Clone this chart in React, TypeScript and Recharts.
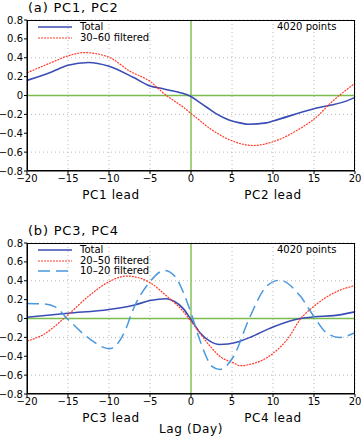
import React from "react";
import { LineChart, Line, XAxis, YAxis, CartesianGrid, ReferenceLine } from "recharts";

// lag (day) / value pairs
const aTotal = [
  [-20, 0.16], [-17, 0.25], [-15, 0.32], [-12.5, 0.35], [-10, 0.31], [-7, 0.19], [-5, 0.1],
  [-3.4, 0.072], [-2.5, 0.053], [-1.3, 0.03], [0, -0.01], [1, -0.07], [2, -0.13], [3, -0.19],
  [4, -0.235], [5, -0.27], [6, -0.29], [7, -0.305], [9.2, -0.29], [10, -0.27], [15, -0.14],
  [19, -0.057], [20, -0.02],
];
const aFilt = [
  [-20, 0.24], [-17, 0.35], [-15, 0.42], [-13, 0.455], [-10, 0.405], [-7.5, 0.26], [-5, 0.15],
  [-3, 0.0], [-2, -0.06], [-1, -0.12], [0, -0.19], [1, -0.26], [2.3, -0.35], [3, -0.39],
  [5, -0.48], [7.6, -0.53], [10, -0.49], [13.3, -0.35], [15, -0.25], [17.4, -0.05], [20, 0.13],
];
const bTotal = [
  [-20, 0.014], [-15, 0.056], [-10, 0.095], [-7, 0.14], [-5, 0.19], [-3, 0.21], [-2, 0.18],
  [-1, 0.11], [0, -0.01], [1.1, -0.15], [2.3, -0.24], [3.5, -0.275], [4.5, -0.27], [6, -0.24],
  [7.2, -0.2], [10, -0.09], [13.3, 0.0], [15, 0.018], [17.4, 0.03], [20, 0.07],
];
const bFilt2050 = [
  [-20, -0.24], [-18, -0.17], [-15.5, 0.0], [-12.3, 0.25], [-10, 0.39], [-7.8, 0.45], [-5, 0.38],
  [-3, 0.24], [-1, 0.08], [0, -0.03], [2.3, -0.29], [3.5, -0.4], [5.2, -0.47], [6, -0.5],
  [7, -0.49], [10, -0.37], [12, -0.19], [13.3, -0.01], [15, 0.13], [17.4, 0.27], [20, 0.35],
];
const bFilt1020 = [
  [-20, 0.16], [-18, 0.155], [-16.5, 0.12], [-15, -0.01], [-12.3, -0.22], [-10, -0.32],
  [-7.8, -0.08], [-7.4, 0.02], [-5, 0.39], [-3.2, 0.51], [-2, 0.45], [0, 0.06], [1, -0.21],
  [2.6, -0.51], [3.5, -0.54], [5.2, -0.4], [7.1, 0.0], [9.2, 0.34], [10.8, 0.405], [13.3, 0.24],
  [15, 0.02], [16.5, -0.15], [18.1, -0.2], [20, -0.15],
];

const xTicks = [-20, -15, -10, -5, 0, 5, 10, 15, 20];
const yTicks = [-0.8, -0.6, -0.4, -0.2, 0, 0.2, 0.4, 0.6, 0.8];

const FONT = "'DejaVu Sans', sans-serif";
const BLUE = "#3a4db5";
const RED = "#ff3a2a";
const LIGHT = "#4a98de";
const GREEN = "#7cbc4c";

const toPts = (arr: number[][]) => arr.map(([x, y]) => ({ x, y }));
const fmtX = (v: number) => (v < 0 ? "\u2212" + Math.abs(v) : String(v));
const fmtY = (v: number) => (v === 0 ? "0" : (v < 0 ? "\u2212" : "") + Math.abs(v).toFixed(1));

type Series = { name: string; data: number[][]; color: string; dash?: string; width: number };

function Panel({ top, series }: { top: number; series: Series[] }) {
  const tick = { fill: "#000", fontSize: 10, fontFamily: FONT };
  return (
    <div style={{ position: "absolute", left: 0, top }}>
      <LineChart width={361} height={200} margin={{ top: 20, right: 6, left: 0, bottom: 0 }}>
        <CartesianGrid
          stroke="#b8b8b8"
          strokeDasharray="1 3"
          verticalValues={xTicks.filter((t) => t !== 0)}
          horizontalValues={yTicks.filter((t) => t !== 0)}
        />
        <XAxis
          dataKey="x"
          type="number"
          domain={[-20, 20]}
          ticks={xTicks}
          tickFormatter={fmtX}
          height={29}
          tick={tick}
          tickSize={3}
          tickMargin={1}
          stroke="#000"
          allowDuplicatedCategory={false}
        />
        <YAxis
          type="number"
          domain={[-0.8, 0.8]}
          ticks={yTicks}
          tickFormatter={fmtY}
          width={27}
          tick={tick}
          tickSize={3}
          tickMargin={1}
          stroke="#000"
        />
        <ReferenceLine x={0} stroke={GREEN} strokeWidth={1.4} />
        <ReferenceLine y={0} stroke={GREEN} strokeWidth={1.6} />
        {series.map((s) => (
          <Line
            key={s.name}
            data={toPts(s.data)}
            dataKey="y"
            type="monotone"
            stroke={s.color}
            strokeWidth={s.width}
            strokeDasharray={s.dash}
            dot={false}
            isAnimationActive={false}
          />
        ))}
      </LineChart>
      <div
        style={{
          position: "absolute", left: 27, top: 20, width: 328, height: 151,
          border: "1.5px solid #000", boxSizing: "border-box", pointerEvents: "none",
        }}
      />
      <div style={{ position: "absolute", left: 38, top: 22 }}>
        {series.map((s) => (
          <div key={s.name} style={{ display: "flex", alignItems: "center", height: 10.5 }}>
            <svg width={36} height={6}>
              <line x1={0} y1={3} x2={34} y2={3} stroke={s.color} strokeWidth={s.width} strokeDasharray={s.dash} />
            </svg>
            <span style={{ fontFamily: FONT, fontSize: 10, marginLeft: 6, lineHeight: "10px" }}>{s.name}</span>
          </div>
        ))}
      </div>
      <div style={{ position: "absolute", left: 277, top: 21, fontFamily: FONT, fontSize: 10 }}>4020 points</div>
    </div>
  );
}

const label = (text: string, cx: number, cy: number, size = 12): React.ReactElement => (
  <div
    style={{
      position: "absolute", left: cx - 60, width: 120, top: cy - size / 2 - 1, textAlign: "center",
      fontFamily: FONT, fontSize: size, lineHeight: `${size + 2}px`, letterSpacing: 0.6,
    }}
  >
    {text}
  </div>
);

export default function App() {
  return (
    <div style={{ position: "absolute", left: 0, top: 0, width: 361, height: 436, background: "#fff" }}>
      <div style={{ position: "absolute", left: 28, top: 0, fontFamily: FONT, fontSize: 13, letterSpacing: 0.8 }}>
        (a) PC1, PC2
      </div>
      <Panel
        top={0}
        series={[
          { name: "Total", data: aTotal, color: BLUE, width: 1.6 },
          { name: "30\u201360 filtered", data: aFilt, color: RED, width: 1.2, dash: "2 1" },
        ]}
      />
      {label("PC1 lead", 111, 195)}
      {label("PC2 lead", 273, 195)}
      <div style={{ position: "absolute", left: 28, top: 223, fontFamily: FONT, fontSize: 13, letterSpacing: 0.8 }}>
        (b) PC3, PC4
      </div>
      <Panel
        top={223}
        series={[
          { name: "Total", data: bTotal, color: BLUE, width: 1.6 },
          { name: "20\u201350 filtered", data: bFilt2050, color: RED, width: 1.2, dash: "2 1" },
          { name: "10\u201320 filtered", data: bFilt1020, color: LIGHT, width: 1.5, dash: "12 6" },
        ]}
      />
      {label("PC3 lead", 111, 418)}
      {label("PC4 lead", 273, 418)}
      {label("Lag (Day)", 191, 429)}
    </div>
  );
}
